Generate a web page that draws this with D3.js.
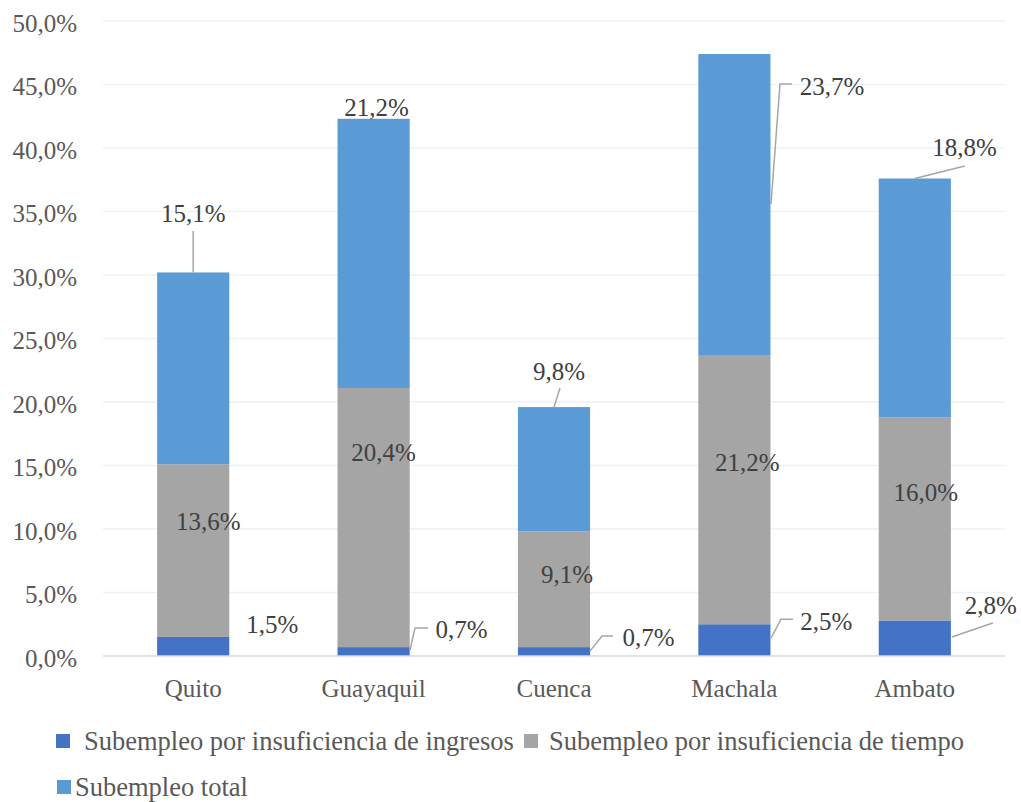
<!DOCTYPE html>
<html>
<head>
<meta charset="utf-8">
<script src="https://cdn.jsdelivr.net/npm/d3@7/dist/d3.min.js"></script>
<style>
  html, body { margin: 0; padding: 0; background: #ffffff; }
  svg { display: block; }
  svg text { font-family: "Liberation Serif", "Tinos", "Times New Roman", "Nimbus Roman", "FreeSerif", "Noto Serif", "DejaVu Serif", serif !important; }
</style>
</head>
<body>
<svg id="chart" width="1021" height="802"></svg>
<script>
// ---- data ----
const categories = ["Quito", "Guayaquil", "Cuenca", "Machala", "Ambato"];
const seriesNames = [
  "Subempleo por insuficiencia de ingresos",
  "Subempleo por insuficiencia de tiempo",
  "Subempleo total"
];
const ingresos = [1.5, 0.7, 0.7, 2.5, 2.8];
const tiempo   = [13.6, 20.4, 9.1, 21.2, 16.0];
const total    = [15.1, 21.2, 9.8, 23.7, 18.8];
const yTicks = [0, 5, 10, 15, 20, 25, 30, 35, 40, 45, 50];

// ---- style / layout ----
const FONT = "'Liberation Serif', 'Tinos', 'Times New Roman', 'Nimbus Roman', 'FreeSerif', 'Noto Serif', 'DejaVu Serif', serif";
const colors = ["#4472c4", "#a5a5a5", "#5b9bd5"];
// label offsets (text centre) relative to (bar centre, top of segment), per series then category
const labelOffsets = [
  [[79, -12], [88, -18], [94.5, -10], [92, -3], [76, -15]],
  [[15, 57], [10, 64], [13, 42.5], [13, 107.5], [11, 75]],
  [[0, -59], [3, -11], [5, -36], [97.6, 32], [49.7, -30.5]]
];
// leader lines relative to same anchor
const leaderLines = [
  [null, [[36.4, 3], [41.4, -19], [54.4, -19]], [[36, 4], [48, -11], [59, -11]],
   [[36.6, 14], [46.6, -5], [58.6, -5]], [[37, 16.6], [78, 2.6]]],
  [null, null, null, null, null],
  [[[0, 0], [0, -41.5]], null, [[0, 0], [6, -19]],
   [[36.6, 150], [45.6, 30], [57.6, 30]], [[0, 0], [50, -12.5]]]
];

const svg = d3.select("#chart");
const x = d3.scaleBand().domain(categories).range([103, 1005]).paddingInner(0.6).paddingOuter(0.3);
const y = d3.scaleLinear().domain([0, 50]).range([656, 21]);

const fmt = v => v.toFixed(1).replace(".", ",") + "%";

// gridlines
svg.append("g").selectAll("line").data(yTicks.filter(t => t > 0)).join("line")
  .attr("x1", 103).attr("x2", 1005)
  .attr("y1", d => y(d)).attr("y2", d => y(d))
  .attr("stroke", "#edf1f8").attr("stroke-width", 1.3);

// y axis labels
const yAxis = d3.axisLeft(y).tickValues(yTicks).tickFormat(fmt).tickSize(0).tickPadding(0);
const gy = svg.append("g").attr("transform", "translate(77,1.5)").call(yAxis);
gy.attr("font-family", FONT);
gy.select(".domain").remove();
gy.selectAll("text").attr("font-size", 25).attr("fill", "#595959").attr("dy", "0.34em");

// stacked data
const rows = categories.map((c, i) => ({ cat: c, a: ingresos[i], b: tiempo[i], c: total[i] }));
const stack = d3.stack().keys(["a", "b", "c"])(rows);

stack.forEach((layer, si) => {
  svg.append("g").selectAll("rect").data(layer).join("rect")
    .attr("x", d => x(d.data.cat))
    .attr("width", x.bandwidth())
    .attr("y", d => y(d[1]))
    .attr("height", d => y(d[0]) - y(d[1]))
    .attr("fill", colors[si]);
});

// x axis baseline + labels
svg.append("line").attr("x1", 103).attr("x2", 1005).attr("y1", y(0)).attr("y2", y(0))
  .attr("stroke", "#d9d9d9").attr("stroke-width", 1.5);
const xAxis = d3.axisBottom(x).tickSize(0).tickPadding(0);
const gx = svg.append("g").attr("transform", `translate(0,${y(0) + 32})`).call(xAxis);
gx.attr("font-family", FONT);
gx.select(".domain").remove();
gx.selectAll("text").attr("font-size", 25).attr("fill", "#595959").attr("dy", "0.34em");

// data labels + leader lines
const lineGen = d3.line();
stack.forEach((layer, si) => {
  layer.forEach((d, ci) => {
    const ax = x(d.data.cat) + x.bandwidth() / 2;
    const ay = y(d[1]);
    const ll = leaderLines[si][ci];
    if (ll) {
      svg.append("path")
        .attr("d", lineGen(ll.map(p => [ax + p[0], ay + p[1]])))
        .attr("fill", "none").attr("stroke", "#a6a6a6").attr("stroke-width", 1.5);
    }
    const off = labelOffsets[si][ci];
    svg.append("text")
      .attr("x", ax + off[0]).attr("y", ay + off[1])
      .attr("dy", "0.34em")
      .attr("text-anchor", "middle")
      .attr("font-family", FONT)
      .attr("font-size", 25).attr("fill", "#404040")
      .text(fmt(d[1] - d[0]));
  });
});

// legend
const legendItems = [
  { name: seriesNames[0], color: colors[0], sx: 56, tx: 84, cy: 741 },
  { name: seriesNames[1], color: colors[1], sx: 524, tx: 549, cy: 741 },
  { name: seriesNames[2], color: colors[2], sx: 57, tx: 75, cy: 787 }
];
const lg = svg.append("g").selectAll("g").data(legendItems).join("g");
lg.append("rect").attr("x", d => d.sx).attr("y", d => d.cy - 7).attr("width", 14).attr("height", 14)
  .attr("fill", d => d.color);
lg.append("text").attr("x", d => d.tx).attr("y", d => d.cy).attr("dy", "0.34em")
  .attr("font-family", FONT)
  .attr("font-size", 26.5).attr("fill", "#595959").text(d => d.name);
</script>
</body>
</html>
